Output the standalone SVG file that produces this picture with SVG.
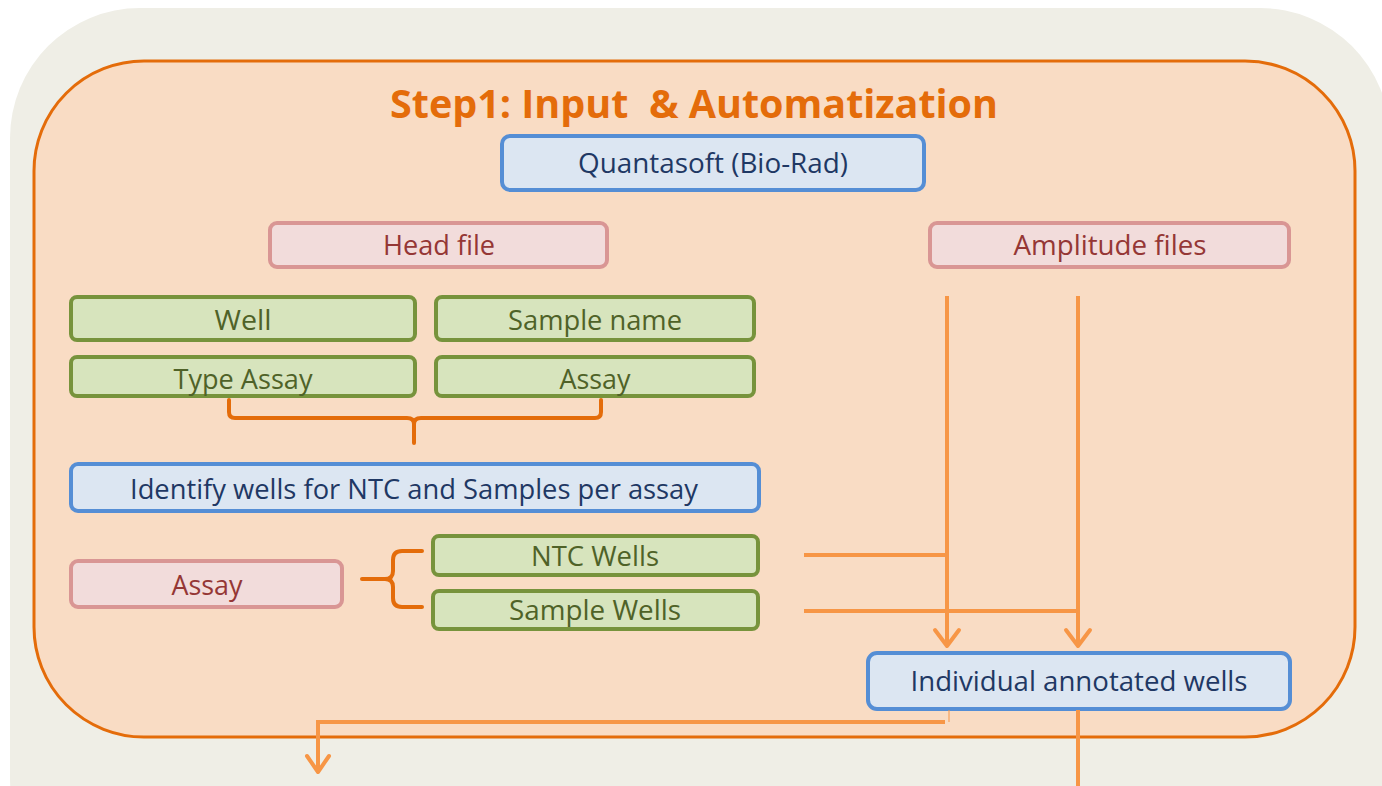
<svg xmlns="http://www.w3.org/2000/svg" width="1382" height="786" viewBox="0 0 1382 786">
  <defs>
    <style>
      .lbl { font-family: "Open Sans", "Liberation Sans", sans-serif; font-size: 27px; text-anchor: middle; }
      .blue rect { fill: #DCE6F2; stroke: #558ED5; stroke-width: 4; }
      .blue text { fill: #1F3864; }
      .pink rect { fill: #F2DCDB; stroke: #D99694; stroke-width: 4; }
      .pink text { fill: #953735; }
      .green rect { fill: #D7E4BD; stroke: #77933C; stroke-width: 4; }
      .green text { fill: #4F6228; }
      .flow { fill: none; stroke: #F79646; stroke-width: 4; }
      .brace { fill: none; stroke: #E46C0A; stroke-width: 4; stroke-linecap: round; stroke-linejoin: round; }
      .head { fill: none; stroke: #F79646; stroke-width: 4; stroke-linecap: round; stroke-linejoin: round; }
    </style>
  </defs>

  <!-- page background -->
  <rect x="0" y="0" width="1382" height="786" fill="#FFFFFF"/>
  <rect x="10" y="8" width="1380" height="900" rx="130" ry="130" fill="#EFEEE6"/>

  <!-- step panel -->
  <g id="step1-panel">
    <rect x="34" y="61" width="1321" height="676" rx="110" ry="110" fill="#F9DCC4" stroke="#E46C0A" stroke-width="3"/>
    <text x="694" y="118" xml:space="preserve" font-family="'Open Sans', 'Liberation Sans', sans-serif" font-size="40" font-weight="bold" fill="#E46C0A" text-anchor="middle" textLength="608" lengthAdjust="spacingAndGlyphs">Step1: Input  &amp; Automatization</text>
  </g>

  <g id="quantasoft" class="blue">
    <rect x="502" y="136" width="422" height="54" rx="8"/>
    <text class="lbl" x="713" y="173" textLength="270" lengthAdjust="spacingAndGlyphs">Quantasoft (Bio-Rad)</text>
  </g>

  <g id="head-file" class="pink">
    <rect x="270" y="223" width="337" height="44" rx="7"/>
    <text class="lbl" x="439" y="255" textLength="112" lengthAdjust="spacingAndGlyphs">Head file</text>
  </g>

  <g id="amplitude-files" class="pink">
    <rect x="930" y="223" width="359" height="44" rx="7"/>
    <text class="lbl" x="1110" y="255" textLength="193" lengthAdjust="spacingAndGlyphs">Amplitude files</text>
  </g>

  <g id="well" class="green">
    <rect x="71" y="297" width="344" height="43" rx="6"/>
    <text class="lbl" x="243" y="330" textLength="57" lengthAdjust="spacingAndGlyphs">Well</text>
  </g>

  <g id="sample-name" class="green">
    <rect x="436" y="297" width="318" height="43" rx="6"/>
    <text class="lbl" x="595" y="330" textLength="174" lengthAdjust="spacingAndGlyphs">Sample name</text>
  </g>

  <g id="type-assay" class="green">
    <rect x="71" y="357" width="344" height="39" rx="6"/>
    <text class="lbl" x="243" y="389" textLength="139" lengthAdjust="spacingAndGlyphs">Type Assay</text>
  </g>

  <g id="assay-field" class="green">
    <rect x="436" y="357" width="318" height="39" rx="6"/>
    <text class="lbl" x="595" y="389" textLength="71" lengthAdjust="spacingAndGlyphs">Assay</text>
  </g>

  <g id="identify-wells" class="blue">
    <rect x="71" y="464" width="688" height="47" rx="7"/>
    <text class="lbl" x="414" y="499" textLength="568" lengthAdjust="spacingAndGlyphs">Identify wells for NTC and Samples per assay</text>
  </g>

  <g id="assay" class="pink">
    <rect x="71" y="561" width="271" height="46" rx="7"/>
    <text class="lbl" x="207" y="595" textLength="71" lengthAdjust="spacingAndGlyphs">Assay</text>
  </g>

  <g id="ntc-wells" class="green">
    <rect x="433" y="536" width="325" height="39" rx="6"/>
    <text class="lbl" x="595" y="566" textLength="128" lengthAdjust="spacingAndGlyphs">NTC Wells</text>
  </g>

  <g id="sample-wells" class="green">
    <rect x="433" y="591" width="325" height="38" rx="6"/>
    <text class="lbl" x="595" y="620" textLength="172" lengthAdjust="spacingAndGlyphs">Sample Wells</text>
  </g>

  <g id="annotated-wells" class="blue">
    <rect x="868" y="653" width="422" height="56" rx="9"/>
    <text class="lbl" x="1079" y="691" textLength="337" lengthAdjust="spacingAndGlyphs">Individual annotated wells</text>
  </g>

  <g id="connectors">
    <!-- brace joining the four head-file fields -->
    <path class="brace" d="M229,400 V412 Q229,418 235,418 H407 Q414,418 414,424 V443 M414,424 Q414,418 421,418 H595 Q601,418 601,412 V400"/>
    <!-- brace splitting an assay into NTC and sample wells -->
    <path class="brace" d="M422,551 H402 Q393,551 393,560 V571 Q393,579 385,579 H362 M385,579 Q393,579 393,587 V598 Q393,607 402,607 H422"/>

    <!-- amplitude files down to the annotated wells -->
    <line class="flow" x1="947" y1="296" x2="947" y2="646"/>
    <line class="flow" x1="1078" y1="296" x2="1078" y2="646"/>
    <polyline class="head" points="935,630 947,646 959,630"/>
    <polyline class="head" points="1066,630 1078,646 1090,630"/>

    <!-- well groups joining the amplitude streams -->
    <line class="flow" x1="804" y1="555" x2="947" y2="555"/>
    <line class="flow" x1="804" y1="611" x2="1078" y2="611"/>

    <!-- outputs leaving the step -->
    <line stroke="#F79646" stroke-width="1" x1="949" y1="710" x2="949" y2="722"/>
    <polyline class="flow" points="945,722 318,722 318,772"/>
    <polyline class="head" points="307,756 318,772 329,756"/>
    <line class="flow" x1="1078" y1="710" x2="1078" y2="786"/>
  </g>
</svg>
